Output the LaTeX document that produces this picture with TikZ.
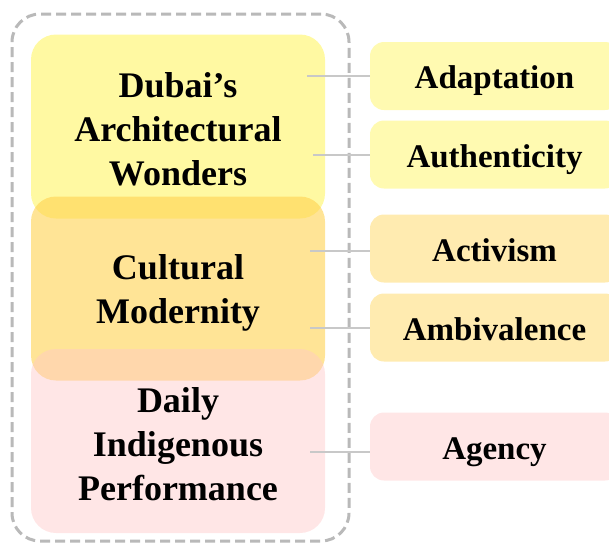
\documentclass[tikz,border=0pt]{standalone}
\usepackage{fontspec}
\setmainfont{Liberation Serif}
\usepackage{tikz}
\usepackage{xcolor}
\usetikzlibrary{calc, positioning}

\definecolor{wonderfill}{RGB}{255,245,100}
\definecolor{modernfill}{RGB}{255,210,80}
\definecolor{dailyfill}{RGB}{255,200,200}
\definecolor{linkgray}{RGB}{200,200,200}
\definecolor{framegray}{RGB}{185,185,185}

% invisible strut that pushes the first line of a theme down
\newcommand{\toplift}[1]{\rule{0pt}{#1}}

\tikzset{
    theme/.style={rounded corners=25pt, inner sep=0pt, minimum width=294pt, minimum height=184pt,
        align=center, fill opacity=0.6, text opacity=1, font=\fontsize{36}{44}\selectfont\bfseries},
    code/.style={rounded corners=14pt, inner sep=0pt, minimum width=249pt, minimum height=68pt,
        text height=25pt, text depth=0pt,
        fill opacity=0.55, text opacity=1, font=\fontsize{33}{40}\selectfont\bfseries},
    link/.style={draw=linkgray, line width=2pt}
}

\begin{document}
\begin{tikzpicture}[x=1pt, y=-1pt]
                        \useasboundingbox (0, 0) rectangle (609, 547);
                        \node[draw=framegray, line width=3pt, dash pattern=on 10pt off 5pt, rounded corners=28pt,
                            minimum width=337pt, minimum height=527pt, inner sep=0pt] (frame) at (180.5, 277.5) {};

                        \node[theme, fill=wonderfill] (wonders) at (178, 126.5) {\toplift{30.5pt}Dubai’s\\Architectural\\Wonders};
                        \node[theme, fill=modernfill] (modern) at (178, 288.5) {\toplift{34.5pt}Cultural\\Modernity};
                        \node[theme, fill=dailyfill, fill opacity=0.45] (daily) at (178, 441) {\toplift{30.5pt}Daily\\Indigenous\\Performance};

                        \node[code, fill=wonderfill, fill opacity=0.5] (adapt) at (494.5, 76) {Adaptation};
                        \node[code, fill=wonderfill, fill opacity=0.5] (auth) at (494.5, 154.5) {Authenticity};
                        \node[code, fill=modernfill, fill opacity=0.45] (activ) at (494.5, 248.5) {Activism};
                        \node[code, fill=modernfill, fill opacity=0.45] (ambiv) at (494.5, 327.5) {Ambivalence};
                        \node[code, fill=dailyfill, fill opacity=0.45] (agency) at (494.5, 446.5) {Agency};

                        \draw[link]
                        ([xshift=-18pt]adapt.west -| wonders.east) -- (adapt.west)
                        ([xshift=-12pt]auth.west -| wonders.east) -- (auth.west)
                        ([xshift=-15pt]modern.east |- {(0, 251)}) -- (activ.west |- {(0, 251)})
                        ([xshift=-15pt]modern.east |- {(0, 328)}) -- (ambiv.west |- {(0, 328)})
                        ([xshift=-15pt]daily.east |- {(0, 452)}) -- (agency.west |- {(0, 452)});
                    \end{tikzpicture}
\end{document}
